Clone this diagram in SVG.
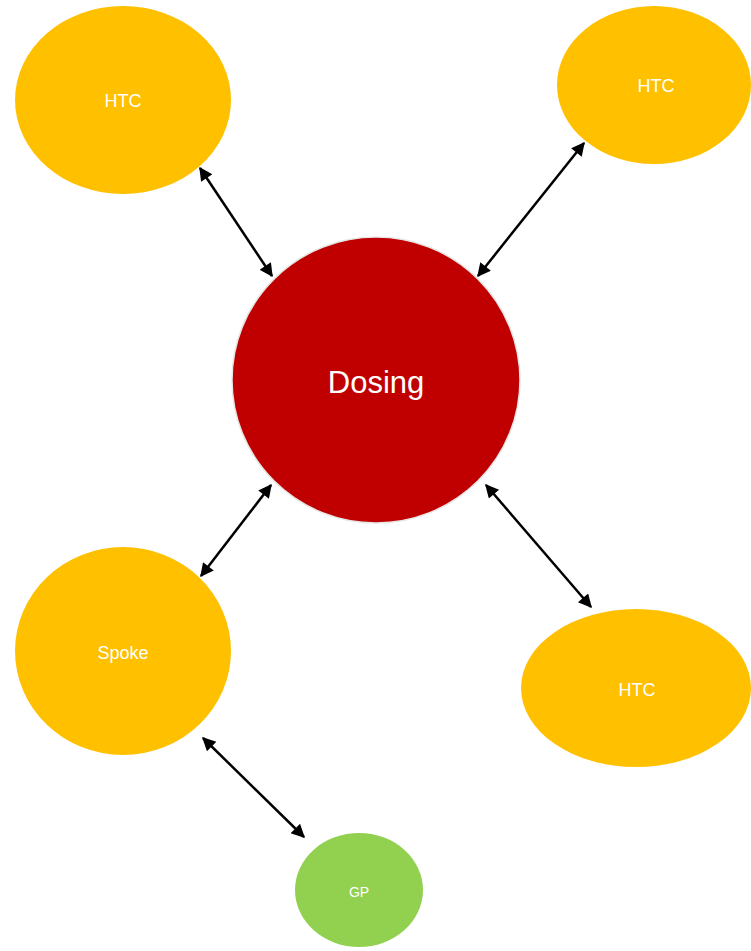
<svg xmlns="http://www.w3.org/2000/svg" width="751" height="951" viewBox="0 0 751 951">
<style>
.y{fill:#FFC000}
.t{fill:#fff;font-family:"Liberation Sans",Arial,sans-serif;text-anchor:middle;dominant-baseline:central}
.c{stroke:#000;stroke-width:2.5;fill:none;marker-start:url(#a);marker-end:url(#a)}
</style>
<defs>
<marker id="a" viewBox="0 0 10 10" refX="9" refY="5" markerWidth="6.4" markerHeight="5.4" markerUnits="strokeWidth" orient="auto-start-reverse">
<path d="M0,0L10,5L0,10z" fill="#000"/>
</marker>
</defs>
<rect width="751" height="951" fill="#fff"/>
<g id="dosing"><ellipse cx="376" cy="380" rx="144" ry="143" fill="#C00000" stroke="#e6e6e6" stroke-width="1.5"/><text class="t" x="376" y="382" font-size="31">Dosing</text></g>
<g id="htc1"><ellipse class="y" cx="123" cy="100" rx="108" ry="94"/><text class="t" x="123" y="101" font-size="18">HTC</text></g>
<g id="htc2"><ellipse class="y" cx="654" cy="85" rx="97" ry="79"/><text class="t" x="656" y="86" font-size="18">HTC</text></g>
<g id="spoke"><ellipse class="y" cx="123" cy="651" rx="108" ry="104"/><text class="t" x="123" y="653" font-size="18">Spoke</text></g>
<g id="htc3"><ellipse class="y" cx="636" cy="688" rx="115" ry="79"/><text class="t" x="637" y="690" font-size="18">HTC</text></g>
<g id="gp"><ellipse cx="359" cy="890" rx="64" ry="57" fill="#92D050"/><text class="t" x="359" y="892" font-size="14">GP</text></g>
<g id="connectors">
<line class="c" x1="200" y1="168" x2="272" y2="276"/>
<line class="c" x1="584" y1="143" x2="478" y2="276"/>
<line class="c" x1="271" y1="485" x2="201" y2="576"/>
<line class="c" x1="486" y1="485" x2="591" y2="607"/>
<line class="c" x1="203" y1="738" x2="304" y2="837"/>
</g>
</svg>
